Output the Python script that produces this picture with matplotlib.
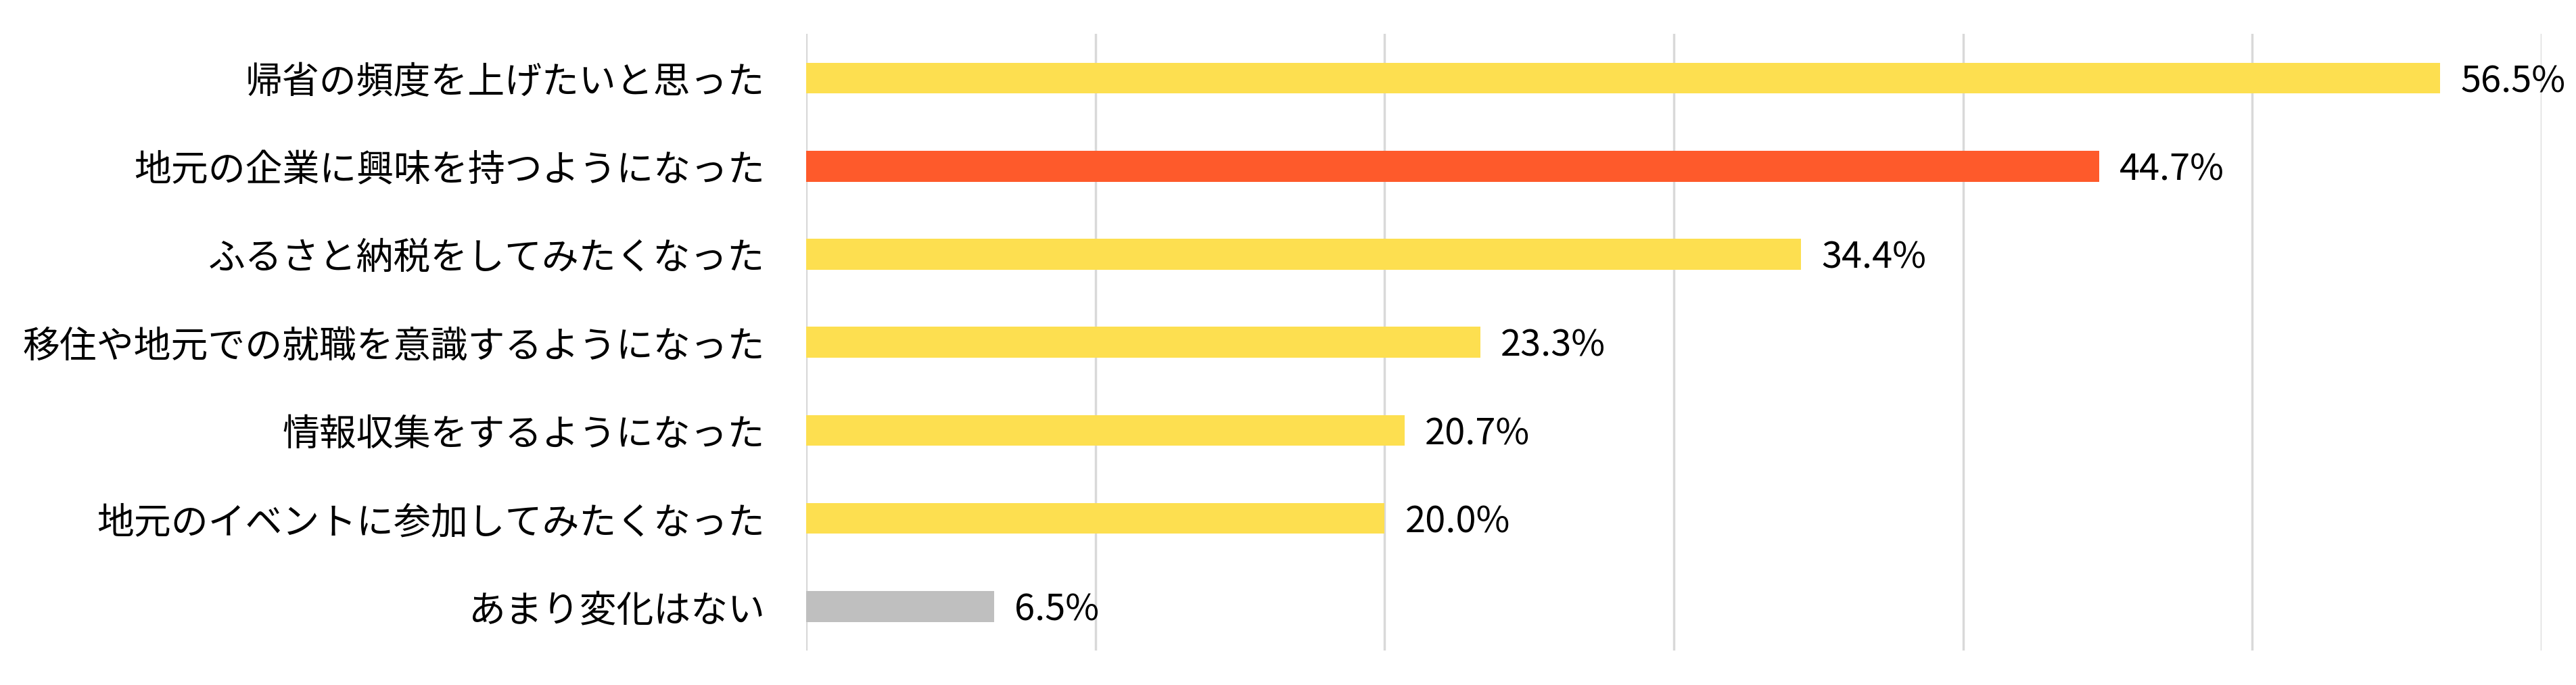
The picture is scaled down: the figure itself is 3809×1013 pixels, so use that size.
import matplotlib
matplotlib.use("Agg")
import matplotlib.pyplot as plt

plt.rcParams['font.family'] = ['Noto Sans CJK JP', 'DejaVu Sans']

# データ
labels = [
    '帰省の頻度を上げたいと思った',
    '地元の企業に興味を持つようになった',
    'ふるさと納税をしてみたくなった',
    '移住や地元での就職を意識するようになった',
    '情報収集をするようになった',
    '地元のイベントに参加してみたくなった',
    'あまり変化はない',
]
values = [56.5, 44.7, 34.4, 23.3, 20.7, 20.0, 6.5]
colors = ['#FDDF50', '#FE5A2B', '#FDDF50', '#FDDF50', '#FDDF50', '#FDDF50', '#BFBFBF']
x_ticks = [0, 10, 20, 30, 40, 50, 60]


def main():
    fig = plt.figure(figsize=(38.09, 10.13), dpi=100)
    ax = fig.add_axes([0.313, 0.0503, 0.9866 - 0.313, 0.9503 - 0.0503])

    y = list(range(len(labels)))
    ax.barh(y, values, height=0.35, color=colors, zorder=3)

    ax.set_xlim(0, 60)
    ax.set_ylim(len(labels) - 0.5, -0.5)
    ax.set_xticks(x_ticks)
    ax.set_xticklabels([])
    ax.tick_params(axis='x', length=0)
    ax.tick_params(axis='y', length=0, pad=44, labelsize=39.5)
    ax.set_yticks(y)
    ax.set_yticklabels(labels)
    ax.grid(axis='x', color='#D9D9D9', linewidth=2.5, zorder=0)

    for s in ax.spines.values():
        s.set_visible(False)

    # 数値ラベル
    for yi, v in zip(y, values):
        ax.text(v + 0.7, yi + 0.04, f'{v:.1f}%', va='center', ha='left', fontsize=39)

    fig.savefig('out.png', dpi=100, facecolor='white')


if __name__ == "__main__":
    main()
